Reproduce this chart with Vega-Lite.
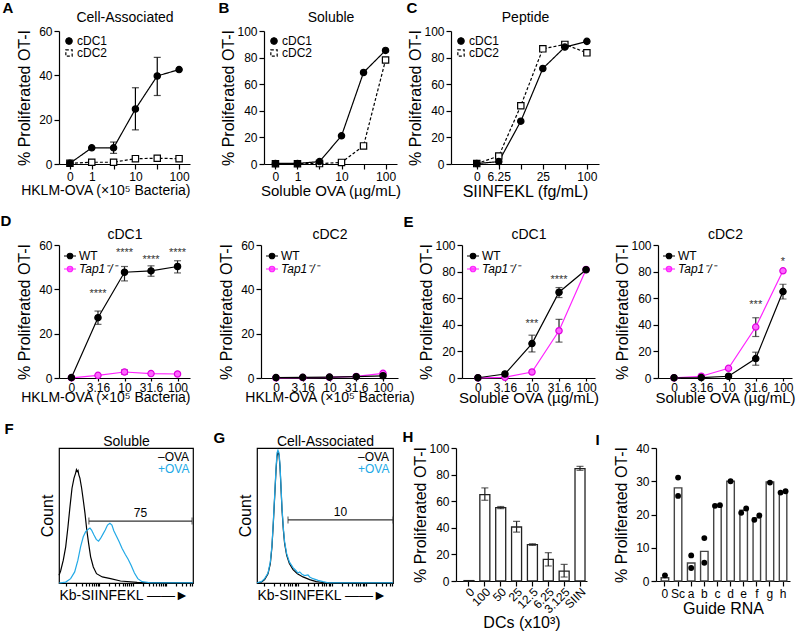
{
"$schema":"https://vega.github.io/schema/vega-lite/v6.json",
"padding":{"top":0,"left":0,"right":0,"bottom":0},
"autosize":{"type":"pad"},
"background":"white",
"config":{
 "font":"Liberation Sans",
 "view":{"stroke":null},
 "axis":{"labelFontSize":12,"titleFontSize":16,"titleFontWeight":"normal","labelColor":"black","titleColor":"black","domainColor":"black","tickColor":"black","domainWidth":1.2,"tickWidth":1.2,"tickSize":5,"labelPadding":2,"labelLimit":100,"grid":false,"labelOverlap":false,"labelFont":"Liberation Sans","titleFont":"Liberation Sans"},
 "axisX":{"titlePadding":1,"labelAngle":0},
 "axisY":{"titlePadding":6},
 "legend":{"labelFontSize":12,"labelColor":"black","padding":0,"offset":4,"rowPadding":0,"symbolStrokeWidth":1.2,"labelOffset":2,"symbolSize":144,"titlePadding":0,"labelFont":"Liberation Sans"}
},
"spacing":14,
"resolve":{"scale":{"color":"independent","fill":"independent","stroke":"independent","shape":"independent","strokeDash":"independent"},"legend":{"color":"independent","fill":"independent","stroke":"independent","shape":"independent","strokeDash":"independent"}},
"vconcat":[
 {"spacing":28,
  "resolve":{"scale":{"color":"independent","fill":"independent","stroke":"independent","shape":"independent","strokeDash":"independent"},"legend":{"color":"independent","fill":"independent","stroke":"independent","shape":"independent","strokeDash":"independent"}},
  "hconcat":[
   {"width":131,"height":133,
    "data":{"values":[
     {"s":"cDC2","d":"0","v":0.3},{"s":"cDC2","d":"1","v":0.8},{"s":"cDC2","d":"3.16","v":0.8},{"s":"cDC2","d":"10","v":2.4},{"s":"cDC2","d":"31.6","v":2.6},{"s":"cDC2","d":"100","v":2.4},
     {"s":"cDC1","d":"0","v":0.3},{"s":"cDC1","d":"1","v":7.3},{"s":"cDC1","d":"3.16","v":7.3,"lo":4.8,"hi":9.9},{"s":"cDC1","d":"10","v":24.8,"lo":15.4,"hi":34.4},{"s":"cDC1","d":"31.6","v":39.7,"lo":30.9,"hi":48.1},{"s":"cDC1","d":"100","v":42.6}]},
    "resolve":{"axis":{"x":"independent","y":"independent"}},
    "layer":[
     {"encoding":{"x":{"field":"d","type":"ordinal","sort":["0","1","3.16","10","31.6","100"],"scale":{"type":"point","padding":0.5,"align":0.5},"axis":{"title":"HKLM-OVA (×10⁵ Bacteria)","titleFontSize":14,"titleAnchor":"end","labelExpr":"datum.value == '3.16' || datum.value == '31.6' ? '' : datum.value"}}},
      "layer":[
       {"mark":{"type":"line","color":"black","strokeWidth":1.2},
        "encoding":{"y":{"field":"v","type":"quantitative","title":"% Proliferated OT-I","scale":{"domain":[0,60],"nice":false},"axis":{"values":[0,20,40,60],"labelOverlap":false,"labelLimit":100}},
         "strokeDash":{"field":"s","type":"nominal","scale":{"domain":["cDC1","cDC2"],"range":[[1,0],[3,2]]},"legend":{"title":null,"orient":"top-left","symbolSize":40,"symbolStrokeColor":"black"}}}},
       {"transform":[{"filter":"isValid(datum.lo)"}],"mark":{"type":"errorbar","ticks":{"size":7},"thickness":1.2,"color":"black"},
        "encoding":{"y":{"field":"lo","type":"quantitative","title":"% Proliferated OT-I","scale":{"domain":[0,60],"nice":false},"axis":{"values":[0,20,40,60],"labelOverlap":false,"labelLimit":100}},"y2":{"field":"hi"}}}
      ]},
     {"mark":{"type":"point","size":40,"strokeWidth":1.2,"opacity":1,"stroke":"black"},
      "encoding":{"x":{"field":"d","type":"ordinal","sort":["0","1","3.16","10","31.6","100"],"scale":{"type":"point","padding":0.5,"align":0.5},"axis":{"orient":"top","title":"Cell-Associated","titleY":-10,"titleBaseline":"alphabetic","titleFontSize":14,"labels":false,"ticks":false,"domain":false}},
       "y":{"field":"v","type":"quantitative","scale":{"domain":[0,60],"nice":false},"axis":{"orient":"left","title":"A","titleAngle":0,"titleX":-57,"titleY":-19,"titleAlign":"left","titleBaseline":"alphabetic","titleFontSize":15,"titleFontWeight":"bold","labels":false,"ticks":false,"domain":false}},
       "shape":{"field":"s","type":"nominal","scale":{"domain":["cDC1","cDC2"],"range":["circle","square"]},"legend":null},
       "fill":{"field":"s","type":"nominal","scale":{"domain":["cDC1","cDC2"],"range":["black","white"]},"legend":null}}}
    ]},
   {"spacing":5,
    "resolve":{"scale":{"color":"independent","fill":"independent","stroke":"independent","shape":"independent","strokeDash":"independent"},"legend":{"color":"independent","fill":"independent","stroke":"independent","shape":"independent","strokeDash":"independent"}},
    "hconcat":[
     {"width":133,"height":133,
      "data":{"values":[
       {"s":"cDC2","d":"0","pv":0.2},{"s":"cDC2","d":"1","pv":0.2},{"s":"cDC2","d":"3.16","pv":0.3},{"s":"cDC2","d":"10","pv":1.2},{"s":"cDC2","d":"31.6","pv":13.6},{"s":"cDC2","d":"100","pv":78.2},
       {"s":"cDC1","d":"0","pv":0.4},{"s":"cDC1","d":"1","pv":0.4},{"s":"cDC1","d":"3.16","pv":1.8},{"s":"cDC1","d":"10","pv":21.2},{"s":"cDC1","d":"31.6","pv":68.8},{"s":"cDC1","d":"100","pv":85.4}]},
      "resolve":{"axis":{"x":"independent","y":"independent"}},
      "layer":[
       {"mark":{"type":"line","color":"black","strokeWidth":1.2},
        "encoding":{"x":{"field":"d","type":"ordinal","sort":["0","1","3.16","10","31.6","100"],"scale":{"type":"point","padding":0.52,"align":0.5},"axis":{"title":"Soluble OVA (µg/mL)","titleFontSize":15,"labelExpr":"datum.value == '3.16' || datum.value == '31.6' ? '' : datum.value"}},
         "y":{"field":"pv","type":"quantitative","title":"% Proliferated OT-I","scale":{"domain":[0,100],"nice":false},"axis":{"values":[0,20,40,60,80,100],"labels":true,"labelOverlap":false,"labelLimit":100,"labelBound":false,"titlePadding":0}},
         "strokeDash":{"field":"s","type":"nominal","scale":{"domain":["cDC1","cDC2"],"range":[[1,0],[3,2]]},"legend":{"title":null,"orient":"top-left","symbolSize":40,"symbolStrokeColor":"black"}}}},
       {"mark":{"type":"point","size":40,"strokeWidth":1.2,"opacity":1,"stroke":"black"},
        "encoding":{"x":{"field":"d","type":"ordinal","sort":["0","1","3.16","10","31.6","100"],"scale":{"type":"point","padding":0.52,"align":0.5},"axis":{"orient":"top","title":"Soluble","titleY":-10,"titleBaseline":"alphabetic","titleFontSize":14,"labels":false,"ticks":false,"domain":false}},
         "y":{"field":"pv","type":"quantitative","scale":{"domain":[0,100],"nice":false},"axis":{"orient":"left","title":"B","titleAngle":0,"titleX":-46,"titleY":-19,"titleAlign":"left","titleBaseline":"alphabetic","titleFontSize":15,"titleFontWeight":"bold","labels":false,"ticks":false,"domain":false}},
         "shape":{"field":"s","type":"nominal","scale":{"domain":["cDC1","cDC2"],"range":["circle","square"]},"legend":null},
         "fill":{"field":"s","type":"nominal","scale":{"domain":["cDC1","cDC2"],"range":["black","white"]},"legend":null}}}
      ]},
     {"width":148,"height":133,
      "data":{"values":[
       {"s":"cDC2","d":"0","v":0.3},{"s":"cDC2","d":"6.25","v":6.0},{"s":"cDC2","d":"12.5","v":43.8},{"s":"cDC2","d":"25","v":86.6},{"s":"cDC2","d":"50","v":89.9},{"s":"cDC2","d":"100","v":83.6},
       {"s":"cDC1","d":"0","v":0.3},{"s":"cDC1","d":"6.25","v":1.8},{"s":"cDC1","d":"12.5","v":32.2},{"s":"cDC1","d":"25","v":71.8},{"s":"cDC1","d":"50","v":87.9},{"s":"cDC1","d":"100","v":92.2}]},
      "resolve":{"axis":{"x":"independent","y":"independent"}},
      "layer":[
       {"mark":{"type":"line","color":"black","strokeWidth":1.2},
        "encoding":{"x":{"field":"d","type":"ordinal","sort":["0","6.25","12.5","25","50","100"],"scale":{"type":"point","padding":0.86,"align":0.68},"axis":{"title":"SIINFEKL (fg/mL)","labelExpr":"datum.value == '12.5' || datum.value == '50' ? '' : datum.value"}},
         "y":{"field":"v","type":"quantitative","title":"% Proliferated OT-I","scale":{"domain":[0,100],"nice":false},"axis":{"values":[0,20,40,60,80,100],"titlePadding":0,"labelOverlap":false,"labelLimit":100}},
         "strokeDash":{"field":"s","type":"nominal","scale":{"domain":["cDC1","cDC2"],"range":[[1,0],[3,2]]},"legend":{"title":null,"orient":"top-left","symbolSize":40,"symbolStrokeColor":"black"}}}},
       {"mark":{"type":"point","size":40,"strokeWidth":1.2,"opacity":1,"stroke":"black"},
        "encoding":{"x":{"field":"d","type":"ordinal","sort":["0","6.25","12.5","25","50","100"],"scale":{"type":"point","padding":0.86,"align":0.68},"axis":{"orient":"top","title":"Peptide","titleY":-10,"titleBaseline":"alphabetic","titleFontSize":14,"labels":false,"ticks":false,"domain":false}},
         "y":{"field":"v","type":"quantitative","scale":{"domain":[0,100],"nice":false},"axis":{"orient":"left","title":"C","titleAngle":0,"titleX":-45,"titleY":-19,"titleAlign":"left","titleBaseline":"alphabetic","titleFontSize":15,"titleFontWeight":"bold","labels":false,"ticks":false,"domain":false}},
         "shape":{"field":"s","type":"nominal","scale":{"domain":["cDC1","cDC2"],"range":["circle","square"]},"legend":null},
         "fill":{"field":"s","type":"nominal","scale":{"domain":["cDC1","cDC2"],"range":["black","white"]},"legend":null}}}
      ]}
    ]}
  ]},
 {"spacing":15,
  "resolve":{"scale":{"color":"independent","fill":"independent","stroke":"independent","shape":"independent","strokeDash":"independent"},"legend":{"color":"independent","fill":"independent","stroke":"independent","shape":"independent","strokeDash":"independent"}},
  "vconcat":[
   {"spacing":-12,
    "resolve":{"scale":{"color":"independent","fill":"independent","stroke":"independent","shape":"independent","strokeDash":"independent"},"legend":{"color":"independent","fill":"independent","stroke":"independent","shape":"independent","strokeDash":"independent"}},
    "hconcat":[
     {"spacing":28,
      "resolve":{"scale":{"color":"independent","fill":"independent","stroke":"independent","shape":"independent","strokeDash":"independent"},"legend":{"color":"independent","fill":"independent","stroke":"independent","shape":"independent","strokeDash":"independent"}},
      "hconcat":[
       {"width":131,"height":133,
        "data":{"values":[
         {"s":"Tap1⁻/⁻","d":"0","v":0.1},{"s":"Tap1⁻/⁻","d":"3.16","v":1.2},{"s":"Tap1⁻/⁻","d":"10","v":2.7,"lo":1.8,"hi":3.6},{"s":"Tap1⁻/⁻","d":"31.6","v":2.0},{"s":"Tap1⁻/⁻","d":"100","v":1.8},
         {"s":"WT","d":"0","v":0.2},{"s":"WT","d":"3.16","v":27.2,"lo":24.2,"hi":30.2},{"s":"WT","d":"10","v":47.7,"lo":43.8,"hi":50.3},{"s":"WT","d":"31.6","v":48.3,"lo":45.9,"hi":50.6},{"s":"WT","d":"100","v":50.3,"lo":47.4,"hi":52.9}]},
        "resolve":{"axis":{"x":"independent","y":"independent"}},
        "layer":[
         {"encoding":{"x":{"field":"d","type":"ordinal","sort":["0","3.16","10","31.6","100"],"scale":{"type":"point","padding":0.47,"align":0.5},"axis":{"title":"HKLM-OVA (×10⁵ Bacteria)","titleFontSize":14,"titleAnchor":"end","tickSize":3,"labelPadding":1,"titlePadding":-3}}},
          "layer":[
           {"mark":{"type":"line","strokeWidth":1.2},
            "encoding":{"y":{"field":"v","type":"quantitative","title":"% Proliferated OT-I","scale":{"domain":[0,60],"nice":false},"axis":{"values":[0,20,40,60],"labelOverlap":false}},
             "color":{"field":"s","type":"nominal","scale":{"domain":["WT","Tap1⁻/⁻"],"range":["black","#ff22ff"]},
              "legend":{"title":null,"orient":"top-left","symbolSize":144,"symbolType":"M-1,0H1M0.46,0A0.46,0.46,0,1,1,-0.46,0A0.46,0.46,0,1,1,0.46,0","encode":{"labels":{"update":{"fontStyle":{"signal":"datum.value === 'WT' ? 'normal' : 'italic'"}}}}}}}},
           {"transform":[{"filter":"isValid(datum.lo)"}],"mark":{"type":"errorbar","ticks":{"size":7},"thickness":1.2,"color":"#222"},
            "encoding":{"y":{"field":"lo","type":"quantitative","title":"% Proliferated OT-I","scale":{"domain":[0,60],"nice":false},"axis":{"values":[0,20,40,60],"labelOverlap":false}},"y2":{"field":"hi"}}},
           {"data":{"values":[{"d":"3.16","t":"****","at":38.1},{"d":"10","t":"****","at":56.2},{"d":"31.6","t":"****","at":53.2},{"d":"100","t":"****","at":56.2}]},
            "mark":{"type":"text","fontSize":11,"color":"#333","baseline":"middle"},
            "encoding":{"y":{"field":"at","type":"quantitative","title":"% Proliferated OT-I","scale":{"domain":[0,60],"nice":false},"axis":{"values":[0,20,40,60],"labelOverlap":false}},"text":{"field":"t"}}}
          ]},
         {"mark":{"type":"point","size":40,"strokeWidth":1.2,"opacity":1},
          "encoding":{"x":{"field":"d","type":"ordinal","sort":["0","3.16","10","31.6","100"],"scale":{"type":"point","padding":0.47,"align":0.5},"axis":{"orient":"top","title":"cDC1","titleY":-7,"titleBaseline":"alphabetic","titleFontSize":14,"labels":false,"ticks":false,"domain":false}},
           "y":{"field":"v","type":"quantitative","scale":{"domain":[0,60],"nice":false},"axis":{"orient":"left","title":"D","titleAngle":0,"titleX":-59,"titleY":-20,"titleAlign":"left","titleBaseline":"alphabetic","titleFontSize":15,"titleFontWeight":"bold","labels":false,"ticks":false,"domain":false}},
           "fill":{"field":"s","type":"nominal","scale":{"domain":["WT","Tap1⁻/⁻"],"range":["black","#ff66ff"]},"legend":null},
           "stroke":{"field":"s","type":"nominal","scale":{"domain":["WT","Tap1⁻/⁻"],"range":["black","#e000e0"]},"legend":null}}}
        ]},
       {"width":137,"height":133,
        "data":{"values":[
         {"s":"Tap1⁻/⁻","d":"0","v":0.1},{"s":"Tap1⁻/⁻","d":"3.16","v":0.2},{"s":"Tap1⁻/⁻","d":"10","v":0.3},{"s":"Tap1⁻/⁻","d":"31.6","v":0.7},{"s":"Tap1⁻/⁻","d":"100","v":2.1},
         {"s":"WT","d":"0","v":0.2},{"s":"WT","d":"3.16","v":0.3},{"s":"WT","d":"10","v":0.4},{"s":"WT","d":"31.6","v":0.6},{"s":"WT","d":"100","v":1.0}]},
        "resolve":{"axis":{"x":"independent","y":"independent"}},
        "layer":[
         {"mark":{"type":"line","strokeWidth":1.2},
          "encoding":{"x":{"field":"d","type":"ordinal","sort":["0","3.16","10","31.6","100"],"scale":{"type":"point","padding":0.56,"align":0.5},"axis":{"title":"HKLM-OVA (×10⁵ Bacteria)","titleFontSize":14,"tickSize":3,"labelPadding":1,"titlePadding":-3}},
           "y":{"field":"v","type":"quantitative","title":"% Proliferated OT-I","scale":{"domain":[0,60],"nice":false},"axis":{"values":[0,20,40,60],"labelOverlap":false}},
           "color":{"field":"s","type":"nominal","scale":{"domain":["WT","Tap1⁻/⁻"],"range":["black","#ff22ff"]},
            "legend":{"title":null,"orient":"top-left","symbolSize":144,"symbolType":"M-1,0H1M0.46,0A0.46,0.46,0,1,1,-0.46,0A0.46,0.46,0,1,1,0.46,0","encode":{"labels":{"update":{"fontStyle":{"signal":"datum.value === 'WT' ? 'normal' : 'italic'"}}}}}}}},
         {"mark":{"type":"point","size":40,"strokeWidth":1.2,"opacity":1},
          "encoding":{"x":{"field":"d","type":"ordinal","sort":["0","3.16","10","31.6","100"],"scale":{"type":"point","padding":0.56,"align":0.5},"axis":{"orient":"top","title":"cDC2","titleY":-7,"titleBaseline":"alphabetic","titleFontSize":14,"labels":false,"ticks":false,"domain":false}},
           "y":{"field":"v","type":"quantitative","scale":{"domain":[0,60],"nice":false},"axis":null},
           "fill":{"field":"s","type":"nominal","scale":{"domain":["WT","Tap1⁻/⁻"],"range":["black","#ff66ff"]},"legend":null},
           "stroke":{"field":"s","type":"nominal","scale":{"domain":["WT","Tap1⁻/⁻"],"range":["black","#e000e0"]},"legend":null}}}
        ]}
      ]},
     {"spacing":15,
      "resolve":{"scale":{"color":"independent","fill":"independent","stroke":"independent","shape":"independent","strokeDash":"independent"},"legend":{"color":"independent","fill":"independent","stroke":"independent","shape":"independent","strokeDash":"independent"}},
      "hconcat":[
       {"width":133,"height":133,
        "data":{"values":[
         {"s":"Tap1⁻/⁻","d":"0","v":0.1},{"s":"Tap1⁻/⁻","d":"3.16","v":0.5},{"s":"Tap1⁻/⁻","d":"10","v":4.5},{"s":"Tap1⁻/⁻","d":"31.6","v":35.5,"lo":27.0,"hi":44.1},{"s":"Tap1⁻/⁻","d":"100","v":81.6},
         {"s":"WT","d":"0","v":0.2},{"s":"WT","d":"3.16","v":3.0},{"s":"WT","d":"10","v":25.9,"lo":19.6,"hi":32.2},{"s":"WT","d":"31.6","v":64.5,"lo":60.5,"hi":68.0},{"s":"WT","d":"100","v":81.4}]},
        "resolve":{"axis":{"x":"independent","y":"independent"}},
        "layer":[
         {"encoding":{"x":{"field":"d","type":"ordinal","sort":["0","3.16","10","31.6","100"],"scale":{"type":"point","padding":0.46,"align":0.64},"axis":{"title":"Soluble OVA (µg/mL)","titleFontSize":15,"tickSize":3,"labelPadding":1,"titlePadding":-3}}},
          "layer":[
           {"mark":{"type":"line","strokeWidth":1.2},
            "encoding":{"y":{"field":"v","type":"quantitative","title":"% Proliferated OT-I","scale":{"domain":[0,100],"nice":false},"axis":{"values":[0,20,40,60,80,100],"titlePadding":0,"labelOverlap":false}},
             "color":{"field":"s","type":"nominal","scale":{"domain":["WT","Tap1⁻/⁻"],"range":["black","#ff22ff"]},
              "legend":{"title":null,"orient":"top-left","symbolSize":144,"symbolType":"M-1,0H1M0.46,0A0.46,0.46,0,1,1,-0.46,0A0.46,0.46,0,1,1,0.46,0","encode":{"labels":{"update":{"fontStyle":{"signal":"datum.value === 'WT' ? 'normal' : 'italic'"}}}}}}}},
           {"transform":[{"filter":"isValid(datum.lo)"}],"mark":{"type":"errorbar","ticks":{"size":7},"thickness":1.2,"color":"#222"},
            "encoding":{"y":{"field":"lo","type":"quantitative","title":"% Proliferated OT-I","scale":{"domain":[0,100],"nice":false},"axis":{"values":[0,20,40,60,80,100],"titlePadding":0,"labelOverlap":false}},"y2":{"field":"hi"}}},
           {"data":{"values":[{"d":"10","t":"***","at":40.8},{"d":"31.6","t":"****","at":73.8}]},
            "mark":{"type":"text","fontSize":11,"color":"#333","baseline":"middle"},
            "encoding":{"y":{"field":"at","type":"quantitative","title":"% Proliferated OT-I","scale":{"domain":[0,100],"nice":false},"axis":{"values":[0,20,40,60,80,100],"titlePadding":0,"labelOverlap":false}},"text":{"field":"t"}}}
          ]},
         {"mark":{"type":"point","size":40,"strokeWidth":1.2,"opacity":1},
          "encoding":{"x":{"field":"d","type":"ordinal","sort":["0","3.16","10","31.6","100"],"scale":{"type":"point","padding":0.46,"align":0.64},"axis":{"orient":"top","title":"cDC1","titleY":-7,"titleBaseline":"alphabetic","titleFontSize":14,"labels":false,"ticks":false,"domain":false}},
           "y":{"field":"v","type":"quantitative","scale":{"domain":[0,100],"nice":false},"axis":{"orient":"left","title":"E","titleAngle":0,"titleX":-59,"titleY":-19,"titleAlign":"left","titleBaseline":"alphabetic","titleFontSize":15,"titleFontWeight":"bold","labels":false,"ticks":false,"domain":false}},
           "fill":{"field":"s","type":"nominal","scale":{"domain":["WT","Tap1⁻/⁻"],"range":["black","#ff66ff"]},"legend":null},
           "stroke":{"field":"s","type":"nominal","scale":{"domain":["WT","Tap1⁻/⁻"],"range":["black","#e000e0"]},"legend":null}}}
        ]},
       {"width":134,"height":133,
        "data":{"values":[
         {"s":"Tap1⁻/⁻","d":"0","v":0.1},{"s":"Tap1⁻/⁻","d":"3.16","v":1.3},{"s":"Tap1⁻/⁻","d":"10","v":7.3},{"s":"Tap1⁻/⁻","d":"31.6","v":38.3,"lo":31.2,"hi":45.3},{"s":"Tap1⁻/⁻","d":"100","v":80.6},
         {"s":"WT","d":"0","v":0.2},{"s":"WT","d":"3.16","v":0.3},{"s":"WT","d":"10","v":1.3},{"s":"WT","d":"31.6","v":14.6,"lo":9.6,"hi":19.4},{"s":"WT","d":"100","v":65.0,"lo":59.4,"hi":70.5}]},
        "resolve":{"axis":{"x":"independent","y":"independent"}},
        "layer":[
         {"encoding":{"x":{"field":"d","type":"ordinal","sort":["0","3.16","10","31.6","100"],"scale":{"type":"point","padding":0.46,"align":0.64},"axis":{"title":"Soluble OVA (µg/mL)","titleFontSize":15,"tickSize":3,"labelPadding":1,"titlePadding":-3}}},
          "layer":[
           {"mark":{"type":"line","strokeWidth":1.2},
            "encoding":{"y":{"field":"v","type":"quantitative","title":"% Proliferated OT-I","scale":{"domain":[0,100],"nice":false},"axis":{"values":[0,20,40,60,80,100],"titlePadding":0,"labelOverlap":false}},
             "color":{"field":"s","type":"nominal","scale":{"domain":["WT","Tap1⁻/⁻"],"range":["black","#ff22ff"]},
              "legend":{"title":null,"orient":"top-left","symbolSize":144,"symbolType":"M-1,0H1M0.46,0A0.46,0.46,0,1,1,-0.46,0A0.46,0.46,0,1,1,0.46,0","encode":{"labels":{"update":{"fontStyle":{"signal":"datum.value === 'WT' ? 'normal' : 'italic'"}}}}}}}},
           {"transform":[{"filter":"isValid(datum.lo)"}],"mark":{"type":"errorbar","ticks":{"size":7},"thickness":1.2,"color":"#222"},
            "encoding":{"y":{"field":"lo","type":"quantitative","title":"% Proliferated OT-I","scale":{"domain":[0,100],"nice":false},"axis":{"values":[0,20,40,60,80,100],"titlePadding":0,"labelOverlap":false}},"y2":{"field":"hi"}}},
           {"data":{"values":[{"d":"31.6","t":"***","at":54.9},{"d":"100","t":"*","at":87.4}]},
            "mark":{"type":"text","fontSize":11,"color":"#333","baseline":"middle"},
            "encoding":{"y":{"field":"at","type":"quantitative","title":"% Proliferated OT-I","scale":{"domain":[0,100],"nice":false},"axis":{"values":[0,20,40,60,80,100],"titlePadding":0,"labelOverlap":false}},"text":{"field":"t"}}}
          ]},
         {"mark":{"type":"point","size":40,"strokeWidth":1.2,"opacity":1},
          "encoding":{"x":{"field":"d","type":"ordinal","sort":["0","3.16","10","31.6","100"],"scale":{"type":"point","padding":0.46,"align":0.64},"axis":{"orient":"top","title":"cDC2","titleY":-7,"titleBaseline":"alphabetic","titleFontSize":14,"labels":false,"ticks":false,"domain":false}},
           "y":{"field":"v","type":"quantitative","scale":{"domain":[0,100],"nice":false},"axis":null},
           "fill":{"field":"s","type":"nominal","scale":{"domain":["WT","Tap1⁻/⁻"],"range":["black","#ff66ff"]},"legend":null},
           "stroke":{"field":"s","type":"nominal","scale":{"domain":["WT","Tap1⁻/⁻"],"range":["black","#e000e0"]},"legend":null}}}
        ]}
      ]}
    ]},
   {"spacing":16,
    "resolve":{"scale":{"color":"independent","fill":"independent","stroke":"independent","shape":"independent","strokeDash":"independent"},"legend":{"color":"independent","fill":"independent","stroke":"independent","shape":"independent","strokeDash":"independent"}},
    "hconcat":[
     {"width":134,"height":135,
      "view":{"stroke":"black","strokeWidth":1.2},
      "resolve":{"axis":{"x":"independent","y":"independent"}},
      "layer":[
       {"data":{"values":[
         {"c":"–OVA","ch":0,"n":5.7},{"c":"–OVA","ch":1.2,"n":8.9},{"c":"–OVA","ch":3.2,"n":16.9},{"c":"–OVA","ch":5.0,"n":26.8},{"c":"–OVA","ch":6.7,"n":41.7},{"c":"–OVA","ch":8.2,"n":56.6},{"c":"–OVA","ch":9.7,"n":70.2},{"c":"–OVA","ch":11.2,"n":77.7},{"c":"–OVA","ch":12.4,"n":81.4},{"c":"–OVA","ch":13.0,"n":84.0},{"c":"–OVA","ch":13.6,"n":82.6},{"c":"–OVA","ch":14.2,"n":83.4},{"c":"–OVA","ch":14.8,"n":80.1},{"c":"–OVA","ch":15.6,"n":77.7},{"c":"–OVA","ch":16.9,"n":70.2},{"c":"–OVA","ch":18.1,"n":61.5},{"c":"–OVA","ch":19.4,"n":51.6},{"c":"–OVA","ch":20.6,"n":40.4},{"c":"–OVA","ch":22.1,"n":29.3},{"c":"–OVA","ch":23.6,"n":19.4},{"c":"–OVA","ch":25.6,"n":11.9},{"c":"–OVA","ch":28.0,"n":6.9},{"c":"–OVA","ch":32.3,"n":4.5},{"c":"–OVA","ch":38.5,"n":3.2},{"c":"–OVA","ch":45.9,"n":1.5},{"c":"–OVA","ch":58.3,"n":0.5},{"c":"–OVA","ch":100,"n":0.2},
         {"c":"+OVA","ch":0,"n":0},{"c":"+OVA","ch":5.0,"n":0.7},{"c":"+OVA","ch":8.7,"n":3.2},{"c":"+OVA","ch":11.7,"n":8.2},{"c":"+OVA","ch":14.1,"n":16.9},{"c":"+OVA","ch":16.1,"n":26.8},{"c":"+OVA","ch":18.1,"n":34.2},{"c":"+OVA","ch":19.9,"n":38.0},{"c":"+OVA","ch":21.6,"n":39.7},{"c":"+OVA","ch":23.1,"n":40.7},{"c":"+OVA","ch":24.3,"n":39.2},{"c":"+OVA","ch":26.1,"n":35.5},{"c":"+OVA","ch":27.8,"n":32.3},{"c":"+OVA","ch":29.5,"n":31.0},{"c":"+OVA","ch":31.0,"n":33.0},{"c":"+OVA","ch":32.8,"n":36.2},{"c":"+OVA","ch":34.5,"n":39.2},{"c":"+OVA","ch":36.2,"n":42.9},{"c":"+OVA","ch":38.0,"n":44.2},{"c":"+OVA","ch":39.5,"n":42.9},{"c":"+OVA","ch":40.9,"n":38.7},{"c":"+OVA","ch":42.9,"n":34.7},{"c":"+OVA","ch":44.9,"n":30.5},{"c":"+OVA","ch":47.1,"n":25.6},{"c":"+OVA","ch":49.4,"n":21.3},{"c":"+OVA","ch":51.6,"n":17.6},{"c":"+OVA","ch":53.8,"n":13.2},{"c":"+OVA","ch":56.3,"n":7.4},{"c":"+OVA","ch":58.8,"n":3.2},{"c":"+OVA","ch":62.0,"n":1.0},{"c":"+OVA","ch":68.2,"n":0.2},{"c":"+OVA","ch":100,"n":0.2}]},
        "mark":{"type":"line","strokeWidth":1.2},
        "encoding":{
         "x":{"field":"ch","type":"quantitative","title":"Kb-SIINFEKL ——►","scale":{"domain":[0,100],"nice":false},"axis":{"titleAnchor":"start","titleFontSize":14,"labels":false,"domain":false,"tickSize":3,"titlePadding":2,"values":[5,12.5,16.9,20.05,22.5,24.45,26.1,27.6,28.85,30,37.5,41.9,45.05,47.5,49.45,51.1,52.6,53.85,55,62.5,66.9,70.05,72.5,74.45,76.1,77.6,78.85,80,87.5,91.9,95.05,97.5,99.45]}},
         "y":{"field":"n","type":"quantitative","title":"Count","scale":{"domain":[0,100],"nice":false},"axis":{"labels":false,"ticks":false,"domain":false,"titlePadding":4}},
         "color":{"field":"c","type":"nominal","scale":{"domain":["–OVA","+OVA"],"range":["black","#22a9e6"]},
          "legend":{"title":null,"orient":"top-right","offset":3,"symbolType":"circle","symbolSize":4,"symbolOpacity":0,"labelOffset":1,"labelLimit":60,"encode":{"labels":{"update":{"fill":{"signal":"datum.value === '+OVA' ? '#22a9e6' : 'black'"}}}}}}}},
       {"data":{"values":[]},
        "mark":{"type":"point"},
        "encoding":{"x":{"field":"ch","type":"quantitative","scale":{"domain":[0,100],"nice":false},"axis":{"orient":"top","title":"Soluble","titleY":-3,"titleBaseline":"alphabetic","titleFontSize":14,"labels":false,"ticks":false,"domain":false}},
         "y":{"field":"n","type":"quantitative","scale":{"domain":[0,100],"nice":false},"axis":{"orient":"left","title":"F","titleAngle":0,"titleX":-55,"titleY":-15,"titleAlign":"left","titleBaseline":"alphabetic","titleFontSize":15,"titleFontWeight":"bold","labels":false,"ticks":false,"domain":false}}}},
       {"data":{"values":[{"start":22.3,"end":99.3,"lvl":45.9,"pct":"75"}]},
        "mark":{"type":"rule","color":"#333","strokeWidth":1.2},"encoding":{"x":{"field":"start","type":"quantitative","scale":{"domain":[0,100],"nice":false},"axis":null},"x2":{"field":"end"},"y":{"field":"lvl","type":"quantitative","scale":{"domain":[0,100],"nice":false},"axis":null}}},
       {"data":{"values":[{"start":22.3,"end":99.3,"lvl":45.9,"pct":"75"}]},
        "transform":[{"fold":["start","end"],"as":["k","xv"]}],"mark":{"type":"tick","orient":"vertical","color":"#333","size":7,"thickness":1.2},"encoding":{"x":{"field":"xv","type":"quantitative","scale":{"domain":[0,100],"nice":false},"axis":null},"y":{"field":"lvl","type":"quantitative","scale":{"domain":[0,100],"nice":false},"axis":null}}},
       {"data":{"values":[{"start":22.3,"end":99.3,"lvl":45.9,"pct":"75"}]},
        "transform":[{"calculate":"(datum.start+datum.end)/2","as":"mid"}],"mark":{"type":"text","fontSize":12,"dy":-8,"color":"black"},"encoding":{"x":{"field":"mid","type":"quantitative","scale":{"domain":[0,100],"nice":false},"axis":null},"y":{"field":"lvl","type":"quantitative","scale":{"domain":[0,100],"nice":false},"axis":null},"text":{"field":"pct"}}}
      ]},
     {"spacing":6,
      "resolve":{"scale":{"color":"independent","fill":"independent","stroke":"independent","shape":"independent","strokeDash":"independent"},"legend":{"color":"independent","fill":"independent","stroke":"independent","shape":"independent","strokeDash":"independent"}},
      "hconcat":[
       {"width":136,"height":135,
        "view":{"stroke":"black","strokeWidth":1.2},
        "resolve":{"axis":{"x":"independent","y":"independent"}},
        "layer":[
         {"data":{"values":[
           {"c":"–OVA","ch":0,"n":0.2},{"c":"–OVA","ch":3.2,"n":0.7},{"c":"–OVA","ch":5.6,"n":2.5},{"c":"–OVA","ch":8.1,"n":6.9},{"c":"–OVA","ch":9.8,"n":14.4},{"c":"–OVA","ch":11.0,"n":26.8},{"c":"–OVA","ch":12.0,"n":44.2},{"c":"–OVA","ch":13.0,"n":64.0},{"c":"–OVA","ch":14.0,"n":83.9},{"c":"–OVA","ch":14.7,"n":93.8},{"c":"–OVA","ch":15.4,"n":96.8},{"c":"–OVA","ch":16.2,"n":95.0},{"c":"–OVA","ch":16.9,"n":86.4},{"c":"–OVA","ch":17.6,"n":71.5},{"c":"–OVA","ch":18.4,"n":54.1},{"c":"–OVA","ch":19.4,"n":39.2},{"c":"–OVA","ch":20.3,"n":29.3},{"c":"–OVA","ch":21.8,"n":20.6},{"c":"–OVA","ch":23.8,"n":14.4},{"c":"–OVA","ch":26.5,"n":9.9},{"c":"–OVA","ch":29.7,"n":6.9},{"c":"–OVA","ch":33.8,"n":4.5},{"c":"–OVA","ch":38.7,"n":2.5},{"c":"–OVA","ch":43.6,"n":1.0},{"c":"–OVA","ch":49.8,"n":0.2},{"c":"–OVA","ch":100,"n":0.2},
           {"c":"+OVA","ch":0,"n":0.2},{"c":"+OVA","ch":3.2,"n":1.0},{"c":"+OVA","ch":5.6,"n":3.2},{"c":"+OVA","ch":8.1,"n":7.4},{"c":"+OVA","ch":9.8,"n":15.6},{"c":"+OVA","ch":11.0,"n":28.0},{"c":"+OVA","ch":12.0,"n":45.4},{"c":"+OVA","ch":13.0,"n":65.3},{"c":"+OVA","ch":14.0,"n":85.1},{"c":"+OVA","ch":14.7,"n":96.3},{"c":"+OVA","ch":15.4,"n":98.3},{"c":"+OVA","ch":16.2,"n":96.3},{"c":"+OVA","ch":16.9,"n":87.6},{"c":"+OVA","ch":17.6,"n":72.7},{"c":"+OVA","ch":18.4,"n":55.3},{"c":"+OVA","ch":19.4,"n":40.4},{"c":"+OVA","ch":20.3,"n":30.5},{"c":"+OVA","ch":21.8,"n":21.8},{"c":"+OVA","ch":23.8,"n":15.6},{"c":"+OVA","ch":26.5,"n":11.4},{"c":"+OVA","ch":28.9,"n":8.9},{"c":"+OVA","ch":30.1,"n":7.4},{"c":"+OVA","ch":31.4,"n":8.2},{"c":"+OVA","ch":33.1,"n":6.5},{"c":"+OVA","ch":35.0,"n":5.5},{"c":"+OVA","ch":37.5,"n":6.0},{"c":"+OVA","ch":38.7,"n":4.5},{"c":"+OVA","ch":41.2,"n":3.2},{"c":"+OVA","ch":44.9,"n":2.0},{"c":"+OVA","ch":48.5,"n":1.0},{"c":"+OVA","ch":52.2,"n":0.2},{"c":"+OVA","ch":100,"n":0.2}]},
          "mark":{"type":"line","strokeWidth":1.2},
          "encoding":{
           "x":{"field":"ch","type":"quantitative","title":"Kb-SIINFEKL ——►","scale":{"domain":[0,100],"nice":false},"axis":{"titleAnchor":"start","titleFontSize":14,"labels":false,"domain":false,"tickSize":3,"titlePadding":2,"values":[5,12.5,16.9,20.05,22.5,24.45,26.1,27.6,28.85,30,37.5,41.9,45.05,47.5,49.45,51.1,52.6,53.85,55,62.5,66.9,70.05,72.5,74.45,76.1,77.6,78.85,80,87.5,91.9,95.05,97.5,99.45]}},
           "y":{"field":"n","type":"quantitative","title":"Count","scale":{"domain":[0,100],"nice":false},"axis":{"labels":false,"ticks":false,"domain":false,"titlePadding":4}},
           "color":{"field":"c","type":"nominal","scale":{"domain":["–OVA","+OVA"],"range":["black","#22a9e6"]},
            "legend":{"title":null,"orient":"top-right","offset":3,"symbolType":"circle","symbolSize":4,"symbolOpacity":0,"labelOffset":1,"labelLimit":60,"encode":{"labels":{"update":{"fill":{"signal":"datum.value === '+OVA' ? '#22a9e6' : 'black'"}}}}}}}},
         {"data":{"values":[]},
          "mark":{"type":"point"},
          "encoding":{"x":{"field":"ch","type":"quantitative","scale":{"domain":[0,100],"nice":false},"axis":{"orient":"top","title":"Cell-Associated","titleY":-3,"titleBaseline":"alphabetic","titleFontSize":14,"labels":false,"ticks":false,"domain":false}},
           "y":{"field":"n","type":"quantitative","scale":{"domain":[0,100],"nice":false},"axis":{"orient":"left","title":"G","titleAngle":0,"titleX":-44,"titleY":-6,"titleAlign":"left","titleBaseline":"alphabetic","titleFontSize":15,"titleFontWeight":"bold","labels":false,"ticks":false,"domain":false}}}},
         {"data":{"values":[{"start":22.8,"end":100,"lvl":46.7,"pct":"10"}]},
          "mark":{"type":"rule","color":"#333","strokeWidth":1.2},"encoding":{"x":{"field":"start","type":"quantitative","scale":{"domain":[0,100],"nice":false},"axis":null},"x2":{"field":"end"},"y":{"field":"lvl","type":"quantitative","scale":{"domain":[0,100],"nice":false},"axis":null}}},
         {"data":{"values":[{"start":22.8,"end":100,"lvl":46.7,"pct":"10"}]},
          "transform":[{"fold":["start","end"],"as":["k","xv"]}],"mark":{"type":"tick","orient":"vertical","color":"#333","size":7,"thickness":1.2},"encoding":{"x":{"field":"xv","type":"quantitative","scale":{"domain":[0,100],"nice":false},"axis":null},"y":{"field":"lvl","type":"quantitative","scale":{"domain":[0,100],"nice":false},"axis":null}}},
         {"data":{"values":[{"start":22.8,"end":100,"lvl":46.7,"pct":"10"}]},
          "transform":[{"calculate":"(datum.start+datum.end)/2","as":"mid"}],"mark":{"type":"text","fontSize":12,"dy":-8,"color":"black"},"encoding":{"x":{"field":"mid","type":"quantitative","scale":{"domain":[0,100],"nice":false},"axis":null},"y":{"field":"lvl","type":"quantitative","scale":{"domain":[0,100],"nice":false},"axis":null},"text":{"field":"pct"}}}
        ]},
       {"spacing":7,
        "resolve":{"scale":{"color":"independent","fill":"independent","stroke":"independent","shape":"independent","strokeDash":"independent"},"legend":{"color":"independent","fill":"independent","stroke":"independent","shape":"independent","strokeDash":"independent"}},
        "hconcat":[
         {"width":131,"height":133,
          "data":{"values":[
           {"k":"0","v":0.3},{"k":"100","v":64.9,"lo":60.7,"hi":70.0},{"k":"50","v":55.1,"lo":54.4,"hi":56.0},{"k":"25","v":40.6,"lo":36.8,"hi":44.9},{"k":"12.5","v":27.3,"lo":26.8,"hi":28.0},{"k":"6.25","v":16.3,"lo":11.3,"hi":21.3},{"k":"3.125","v":7.5,"lo":3.0,"hi":12.5},{"k":"SIIN","v":84.5,"lo":83.2,"hi":86.2}]},
          "resolve":{"axis":{"y":"independent"}},
          "encoding":{"x":{"field":"k","type":"ordinal","sort":["0","100","50","25","12.5","6.25","3.125","SIIN"],"scale":{"type":"band","paddingInner":0.37,"paddingOuter":0.315,"align":0.8},"axis":{"title":"DCs (x10³)","labelAngle":-45,"labelPadding":0,"titlePadding":-1}}},
          "layer":[
           {"mark":{"type":"bar","fill":"white","stroke":"#222","strokeWidth":1.3,"width":10},
            "encoding":{"y":{"field":"v","type":"quantitative","title":"% Proliferated OT-I","scale":{"domain":[0,100],"nice":false},"axis":{"values":[0,20,40,60,80,100],"titlePadding":0,"labelOverlap":false}}}},
           {"transform":[{"filter":"isValid(datum.lo)"}],"mark":{"type":"errorbar","ticks":{"size":7},"thickness":1.2,"color":"#222"},
            "encoding":{"y":{"field":"lo","type":"quantitative","scale":{"domain":[0,100],"nice":false},"axis":null},"y2":{"field":"hi"}}},
           {"transform":[{"filter":"false"}],"mark":{"type":"point"},
            "encoding":{"y":{"field":"v","type":"quantitative","scale":{"domain":[0,100],"nice":false},"axis":{"orient":"left","title":"H","titleAngle":0,"titleX":-54,"titleY":-7,"titleAlign":"left","titleBaseline":"alphabetic","titleFontSize":15,"titleFontWeight":"bold","labels":false,"ticks":false,"domain":false}}}}
          ]},
         {"width":134,"height":133,
          "resolve":{"axis":{"y":"independent"}},
          "encoding":{"x":{"field":"g","type":"ordinal","sort":["0","Sc","a","b","c","d","e","f","g","h"],"scale":{"type":"band","paddingInner":0.43,"paddingOuter":0.32,"align":0.62},"axis":{"title":"Guide RNA","titlePadding":1}}},
          "layer":[
           {"data":{"values":[{"g":"0","v":1.0},{"g":"Sc","v":28.0},{"g":"a","v":5.4},{"g":"b","v":8.9},{"g":"c","v":22.6},{"g":"d","v":30.0},{"g":"e","v":21.3},{"g":"f","v":19.0},{"g":"g","v":29.8},{"g":"h","v":26.8}]},
            "mark":{"type":"bar","fill":"white","stroke":"#444","strokeWidth":1.4,"width":7.5},
            "encoding":{"y":{"field":"v","type":"quantitative","title":"% Proliferated OT-I","scale":{"domain":[0,40],"nice":false},"axis":{"values":[0,10,20,30,40],"labelOverlap":false}}}},
           {"data":{"values":[{"g":"0","r":"m","v":1.7},{"g":"Sc","r":"m","v":31.1},{"g":"Sc","r":"m","v":25.6},{"g":"a","r":"m","v":7.7},{"g":"a","r":"m","v":3.9},{"g":"b","r":"m","v":12.9},{"g":"b","r":"m","v":5.5},{"g":"c","r":"l","v":22.6},{"g":"c","r":"r","v":22.8},{"g":"d","r":"m","v":30.0},{"g":"e","r":"l","v":20.5},{"g":"e","r":"r","v":21.8},{"g":"f","r":"l","v":18.4},{"g":"f","r":"r","v":19.7},{"g":"g","r":"m","v":29.6},{"g":"h","r":"l","v":26.6},{"g":"h","r":"r","v":27.0}]},
            "mark":{"type":"circle","size":34,"color":"black","opacity":1},
            "encoding":{"xOffset":{"field":"r","type":"nominal","scale":{"domain":["l","m","r"]}},"y":{"field":"v","type":"quantitative","scale":{"domain":[0,40],"nice":false},"axis":{"orient":"left","title":"I","titleAngle":0,"titleX":-61,"titleY":-4,"titleAlign":"left","titleBaseline":"alphabetic","titleFontSize":15,"titleFontWeight":"bold","labels":false,"ticks":false,"domain":false}}}}
          ]}
        ]}
      ]}
    ]}
  ]}
]
}
